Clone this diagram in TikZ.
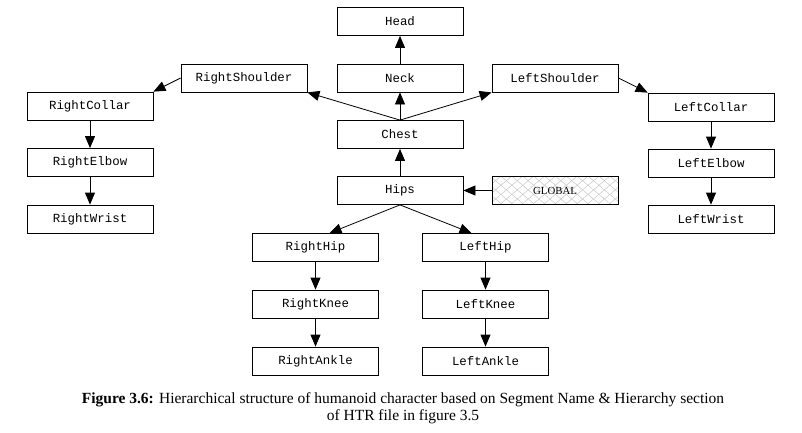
\documentclass[tikz,border=0pt]{standalone}
\usepackage{fontspec}
\setmainfont{Liberation Serif}
\newfontfamily\monofont{Liberation Mono}
\usetikzlibrary{arrows.meta,patterns.meta}
\tikzset{
  box/.style={draw, line width=0.8pt, minimum width=126pt, minimum height=28pt, inner sep=0pt,
    font=\monofont\fontsize{12.4}{13}\selectfont},
  arr/.style={line width=0.8pt, -{Triangle[length=12pt,width=10pt]}},
  hatch/.style={pattern={Lines[angle=40,distance=7pt,line width=0.5pt]}, pattern color=black!22},
  captext/.style={anchor=base, inner sep=0pt, font=\fontsize{15.5}{17}\selectfont},
}
\begin{document}
\begin{tikzpicture}[x=1pt,y=-1pt]
\useasboundingbox (0,0) rectangle (802,432);
\node[box] (head) at (400,21.5) {Head};
\node[box] (neck) at (400,78) {Neck};
\node[box] (chest) at (400,134.5) {Chest};
\node[box] (hips) at (400,190.5) {Hips};
\fill[pattern={Lines[angle=-40,distance=7pt,line width=0.5pt]}, pattern color=black!22] (492,177) rectangle (618,204);
\node[box, hatch, font=\fontsize{10.8}{11}\selectfont] (glob) at (555,190.5) {GLOBAL};
\node[box] (rsh) at (244,78) {RightShoulder};
\node[box] (lsh) at (555,78) {LeftShoulder};
\node[box] (rcol) at (90,106) {RightCollar};
\node[box] (relb) at (90,162.5) {RightElbow};
\node[box] (rwr) at (90,219) {RightWrist};
\node[box] (lcol) at (711,107) {LeftCollar};
\node[box] (lelb) at (711,163) {LeftElbow};
\node[box] (lwr) at (711,219) {LeftWrist};
\node[box] (rhip) at (315.5,247.5) {RightHip};
\node[box] (rkne) at (315.5,304) {RightKnee};
\node[box] (rank) at (315.5,361) {RightAnkle};
\node[box] (lhip) at (485.5,247.5) {LeftHip};
\node[box] (lkne) at (485.5,304) {LeftKnee};
\node[box] (lank) at (485.5,361) {LeftAnkle};
\draw[arr] (neck) -- (head);
\draw[arr] (chest) -- (neck);
\draw[arr] (chest.north) -- (rsh.south east);
\draw[arr] (chest.north) -- (lsh.south west);
\draw[arr] (hips) -- (chest);
\draw[arr] (glob) -- (hips);
\draw[arr] (rsh.west) -- (rcol.north east);
\draw[arr] (lsh.east) -- (lcol.north west);
\draw[arr] (rcol) -- (relb);
\draw[arr] (relb) -- (rwr);
\draw[arr] (lcol) -- (lelb);
\draw[arr] (lelb) -- (lwr);
\draw[arr] (hips.south) -- ([xshift=14pt]rhip.north);
\draw[arr] (hips.south) -- ([xshift=-14pt]lhip.north);
\draw[arr] (rhip) -- (rkne);
\draw[arr] (rkne) -- (rank);
\draw[arr] (lhip) -- (lkne);
\draw[arr] (lkne) -- (lank);
\node[captext] (cap1) at (403,403)
  {\textbf{Figure 3.6:} Hierarchical structure of humanoid character based on Segment Name \& Hierarchy section};
\node[captext] (cap2) at (403,420) {of HTR file in figure 3.5};
\end{tikzpicture}
\end{document}
